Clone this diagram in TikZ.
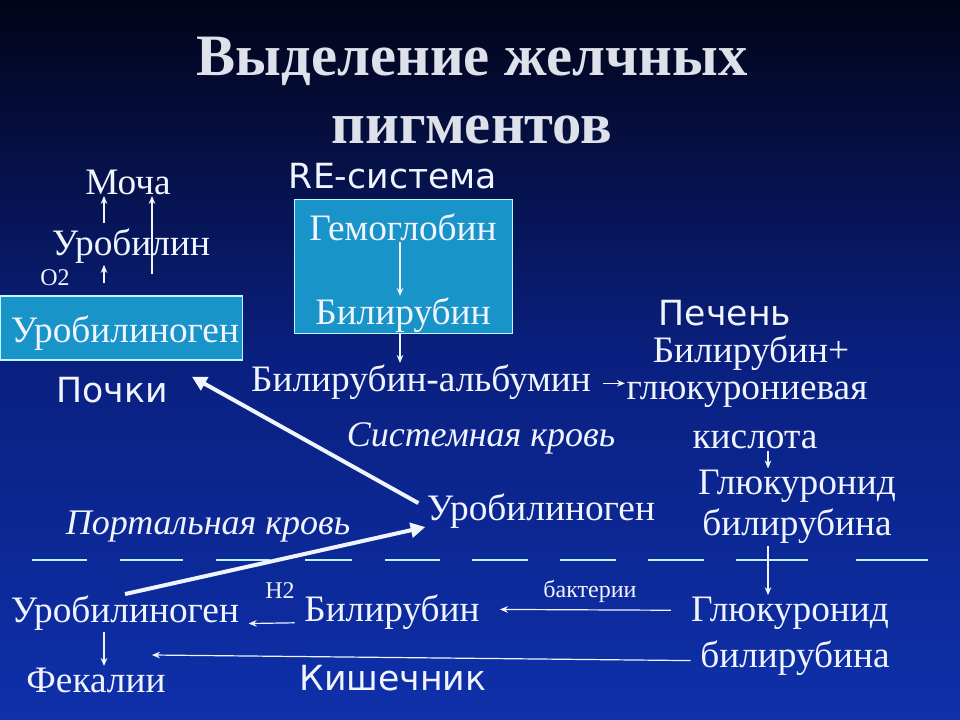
\documentclass[tikz,border=0pt]{standalone}
\usepackage{fontspec}
\setmainfont{Liberation Serif}
\newfontfamily\handfont{DejaVu Sans}
\usetikzlibrary{arrows.meta}
\definecolor{slidetop}{RGB}{2,4,24}
\definecolor{slidemid}{RGB}{10,32,128}
\definecolor{slidebot}{RGB}{14,48,170}
\definecolor{boxfill}{RGB}{24,148,200}
\definecolor{ink}{RGB}{240,244,255}
\definecolor{titleink}{RGB}{222,224,234}
\begin{document}
\begin{tikzpicture}[x=0.75pt,y=-0.75pt,
  every node/.style={text=ink,inner sep=1pt,font=\fontsize{28}{31}\selectfont},
  note/.style={font=\fontsize{18}{20}\selectfont},
  place/.style={font=\handfont\fontsize{26}{28}\selectfont},
  blood/.style={font=\itshape\fontsize{27}{29}\selectfont},
  box/.style={draw=ink!80!cyan,fill=boxfill,line width=0.8pt},
  thin/.style={draw=ink,line width=0.9pt,-{Stealth[length=6pt,width=5pt]}},
  fat/.style={draw=ink,line width=3pt,-{Triangle[length=11pt,width=11pt]}}]
\shade[top color=slidetop,bottom color=slidebot,middle color=slidemid]
  (0,0) rectangle (960,720);
\useasboundingbox (0,0) rectangle (960,720);
% title
\node[align=center,font=\bfseries\fontsize{44}{51}\selectfont,text=titleink] (title)
  at (472,91) {Выделение желчных\\пигментов};
% kidneys
\node[box,minimum width=182pt,minimum height=48pt] (kidneybox) at (121.5,328) {};
\node (urokid) at (125,333) {Уробилиноген};
\node (urobilin) at (131,246) {Уробилин};
\node (mocha) at (128,182) {Моча};
\node[note] (otwo) at (55,278) {O2};
\node[place] (pochki) at (112,390) {Почки};
\coordinate (uline) at (104,0);
\coordinate (vline) at (152,0);
\draw[thin,shorten <=9pt] (kidneybox.north -| uline) -- (urobilin.south -| uline);
\draw[thin,shorten <=3pt] (urobilin.north -| uline) -- (mocha.south -| uline);
\draw[thin,shorten <=16pt] (kidneybox.north -| vline) -- (mocha.south -| vline);
% RE system
\node[place] (resys) at (393,176) {RE-система};
\node[box,minimum width=163pt,minimum height=101pt] (rebox) at (403.5,266.5) {};
\node (hemo) at (403,227) {Гемоглобин};
\node (bilre) at (403,315) {Билирубин};
\node (bilalb) at (421,382) {Билирубин-альбумин};
\coordinate (reline) at (400,0);
\draw[thin] (hemo.south -| reline) -- (bilre.north -| reline);
\draw[thin] (bilre.south -| reline) -- (bilalb.north -| reline);
% liver
\node[place,inner sep=0pt] (pechen) at (725,313) {Печень};
\node[inner sep=0pt] (bilplus) at (751,353) {Билирубин+};
\node (glucacid) at (747,395) {глюкурониевая};
\node (kislota) at (755,440) {кислота};
\node[align=center] (glucA) at (797,507) {Глюкуронид\\билирубина};
\coordinate (liverline) at (768,0);
\draw[thin,shorten <=8pt] ([yshift=-1pt]bilalb.east) -- ([yshift=-1pt]bilalb.east -| glucacid.west);
\draw[thin] (kislota.south -| liverline) -- (glucA.north -| liverline);
\node[blood] (syskrov) at (481,438) {Системная кровь};
\node (uromid) at (541,511) {Уробилиноген};
\node[blood] (portkrov) at (208,527) {Портальная кровь};
% border of the gut
\foreach \a/\b in {32/87,120/183,216/270,305/352,385/440,472/528,
  560/616,648/704,736/808,856/928}
  \draw[ink!75!cyan,line width=0.9pt] (\a,560) -- (\b,560);
% gut
\node (glucB) at (790,613) {Глюкуронид};
\node (glucBb) at (795,658) {билирубина};
\node (bilgut) at (392,612) {Билирубин};
\node (urogut) at (125,613) {Уробилиноген};
\node (feces) at (96,680) {Фекалии};
\node[place] (gut) at (393,678) {Кишечник};
\node[note] (htwo) at (280,591) {H2};
\node[note] (bact) at (590,591) {бактерии};
\coordinate (gutend) at (152,655);
\draw[thin] (glucA.south -| liverline) -- (glucB.north -| liverline);
\draw[thin,shorten <=14pt,shorten >=14pt] ([yshift=2pt]glucB.west) -- ([yshift=2pt]bilgut.east);
\draw[thin,shorten <=6pt,shorten >=6pt] ([yshift=-8pt]bilgut.west) -- ([yshift=-8pt]urogut.east);
\draw[thin,shorten <=6pt] ([yshift=-2pt]glucBb.west) -- (gutend);
\draw[thin] (urogut.south -| uline) -- (feces.north -| uline);
% blood transport
\draw[fat] (urogut.north) -- ([yshift=-12pt]uromid.west);
\draw[fat,shorten <=6pt] ([yshift=3pt]uromid.west) -- ([xshift=17pt,yshift=10pt]pochki.east);
\end{tikzpicture}
\end{document}
